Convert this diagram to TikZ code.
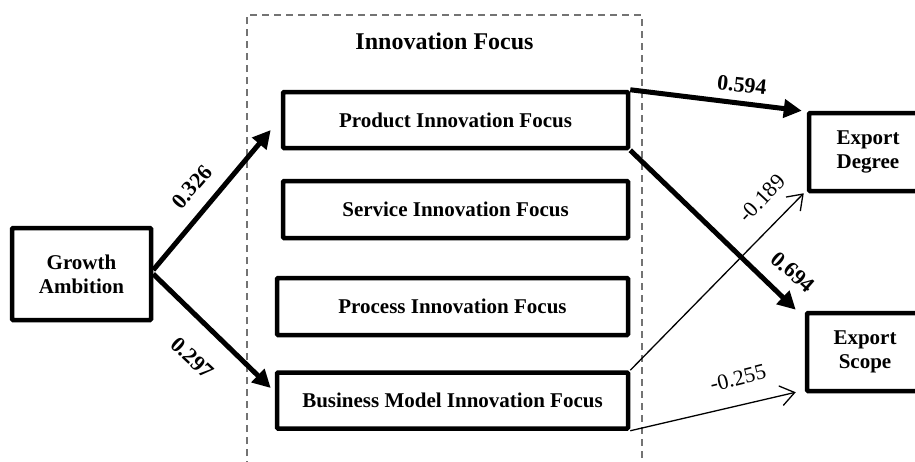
\documentclass[tikz,border=0pt]{standalone}
\usepackage{fontspec}
\setmainfont{Liberation Serif}
\usetikzlibrary{arrows.meta}
\begin{document}
\begin{tikzpicture}[x=1pt,y=1pt,
  box/.style={draw=black, line width=4.5pt, rounded corners=1pt, inner sep=0pt,
    font=\fontsize{21}{24}\selectfont\bfseries, align=center},
  thick arr/.style={line width=5pt, -{Triangle[length=18pt,width=18pt]}},
  thin arr/.style={line width=1.3pt, -{Straight Barb[length=14pt,width=20pt,line width=1.3pt]}},
  boldlab/.style={font=\fontsize{22}{24}\selectfont\bfseries, inner sep=0pt},
  normlab/.style={font=\fontsize{22}{24}\selectfont, inner sep=0pt},
  dashbox/.style={draw=black!55, line width=1.3pt, dash pattern=on 7pt off 5pt}
]
\useasboundingbox (0,0) rectangle (915,-461);
\clip (0,0) rectangle (915,-461);
\fill[white] (0,0) rectangle (915,-461);

% dashed group frame (bottom runs off the picture)
\draw[dashbox] (247,-480) -- (247,-15) -- (642,-15) -- (642,-480);
\node[font=\fontsize{24}{26}\selectfont\bfseries] (title) at (444.5,-41) {Innovation Focus};

% nodes
\node[box, minimum width=139pt, minimum height=92pt] (ga) at (81.5,-274) {Growth\\Ambition};
\node[box, minimum width=345pt, minimum height=56pt] (prod) at (455.5,-120) {Product Innovation Focus};
\node[box, minimum width=345pt, minimum height=57pt] (serv) at (455.5,-209.5) {Service Innovation Focus};
\node[box, minimum width=351pt, minimum height=57pt] (proc) at (452.5,-306.5) {Process Innovation Focus};
\node[box, minimum width=351pt, minimum height=56pt] (bmi) at (452.5,-400.5) {Business Model Innovation Focus};
\node[box, minimum width=118pt, minimum height=78pt] (ed) at (868,-152) {Export\\Degree};
\node[box, minimum width=116pt, minimum height=78pt] (es) at (865,-352) {Export\\Scope};

% connectors
\draw[thick arr] ([yshift=4pt]ga.east) -- ([xshift=-10pt,yshift=-10pt]prod.west);
\draw[thick arr] ([yshift=0pt]ga.east) -- ([xshift=-4pt,yshift=12.5pt]bmi.west);
\draw[thick arr] (prod.north east) -- ([xshift=-5pt]ed.north west);
\draw[thick arr] (prod.south east) -- ([xshift=-9pt,yshift=1pt]es.north west);
\draw[thin arr] (bmi.north east) -- ([xshift=-3pt]ed.south west);
\draw[thin arr] (bmi.south east) -- ([xshift=-9pt,yshift=1pt]es.south west);

% labels
\node[boldlab, rotate=49] (l326) at (192,-187) {0.326};
\node[boldlab, rotate=-43] (l297) at (192,-358) {0.297};
\node[boldlab, rotate=-6] (l594) at (742,-85) {0.594};
\node[boldlab, rotate=-41] (l694) at (793,-272) {0.694};
\node[normlab, rotate=47] (l189) at (762,-198) {-0.189};
\node[normlab, rotate=14] (l255) at (738,-378) {-0.255};
\end{tikzpicture}
\end{document}
